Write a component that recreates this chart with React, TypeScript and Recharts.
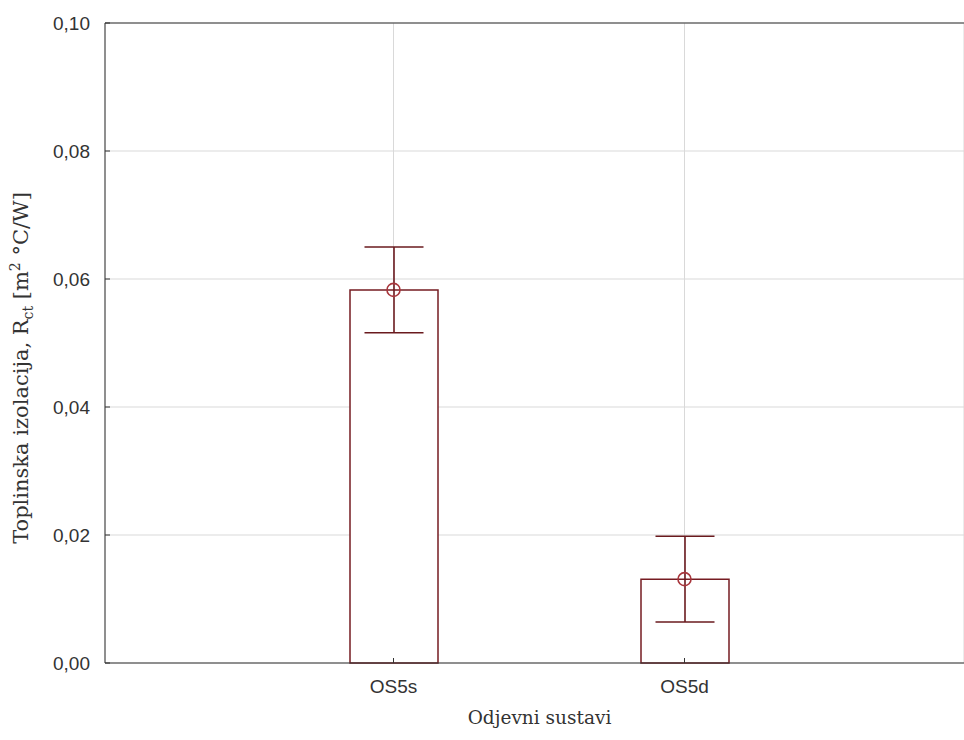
import {
  Bar,
  CartesianGrid,
  ComposedChart,
  ErrorBar,
  ReferenceLine,
  Scatter,
  XAxis,
  YAxis,
} from "recharts";

const systems = ["OS5s", "OS5d"];
const means = [0.0583, 0.0131];
const errors = [0.0067, 0.0067];
const yTicks = [0, 0.02, 0.04, 0.06, 0.08, 0.1];

const data = systems.map((name, i) => ({ name, mean: means[i], err: errors[i] }));

const ink = "#333333";
const maroon = "#761c22";
const serif = "'DejaVu Serif', serif";
const sans = "'Liberation Sans', Arial, sans-serif";

const fmt = (v: number) => v.toFixed(2).replace(".", ",");

function XTick({ x, y, payload }: any) {
  return (
    <g>
      <line x1={x} y1={y} x2={x} y2={y - 5} stroke={ink} />
      <text x={x} y={y + 30} textAnchor="middle" fontSize={19} fill={ink} fontFamily={sans}>
        {payload.value}
      </text>
    </g>
  );
}

function YTick({ x, y, payload }: any) {
  return (
    <g>
      <line x1={x} y1={y} x2={x + 5} y2={y} stroke={ink} />
      <text x={x - 15} y={y} dy="0.36em" textAnchor="end" fontSize={19} fill={ink} fontFamily={sans}>
        {fmt(payload.value)}
      </text>
    </g>
  );
}

function YTitle({ viewBox }: any) {
  const cx = 28;
  const cy = viewBox.y + viewBox.height / 2 + 25;
  return (
    <text
      x={cx}
      y={cy}
      transform={`rotate(-90 ${cx} ${cy})`}
      textAnchor="middle"
      fontSize={21}
      fill={ink}
      fontFamily={serif}
    >
      Toplinska izolacija, R
      <tspan fontSize={14} dy={5}>ct</tspan>
      <tspan dy={-5}> [m</tspan>
      <tspan fontSize={14} dy={-8}>2</tspan>
      <tspan dy={8}> °C/W]</tspan>
    </text>
  );
}

function XTitle({ viewBox }: any) {
  return (
    <text
      x={viewBox.x + viewBox.width / 2 + 5}
      y={viewBox.y + 61}
      textAnchor="middle"
      fontSize={18.5}
      fill={ink}
      fontFamily={serif}
    >
      Odjevni sustavi
    </text>
  );
}

function Marker({ cx, cy }: any) {
  return <circle cx={cx} cy={cy} r={6.5} fill="none" stroke="#a8363c" strokeWidth={1.6} />;
}

export default function App() {
  return (
    <>
      <style>{"html, body { overflow: hidden; background: #fff; }"}</style>
      <div
        style={{
          position: "fixed",
          left: 0,
          top: 0,
          width: 964,
          height: 740,
          overflow: "hidden",
          background: "#fff",
        }}
      >
        <ComposedChart
          width={964}
          height={740}
          data={data}
          margin={{ top: 23, right: 0, bottom: 0, left: 0 }}
        >
          <CartesianGrid stroke="#d9d9d9" />
          <XAxis
            dataKey="name"
            height={77}
            padding={{ left: 143, right: 134 }}
            stroke={ink}
            tickLine={false}
            tickSize={0}
            tickMargin={0}
            tick={<XTick />}
            label={<XTitle />}
          />
          <YAxis
            domain={[0, 0.1]}
            ticks={yTicks}
            width={105}
            stroke={ink}
            tickLine={false}
            tickSize={0}
            tickMargin={0}
            tick={<YTick />}
            label={<YTitle />}
          />
          <ReferenceLine y={0.1} stroke={ink} />
          <Bar
            dataKey="mean"
            barSize={88}
            fill="#ffffff"
            stroke={maroon}
            strokeWidth={1.5}
            isAnimationActive={false}
          >
            <ErrorBar dataKey="err" width={29.5} stroke="#6a1a1e" strokeWidth={1.6} />
          </Bar>
          <Scatter dataKey="mean" shape={<Marker />} isAnimationActive={false} />
        </ComposedChart>
      </div>
    </>
  );
}
